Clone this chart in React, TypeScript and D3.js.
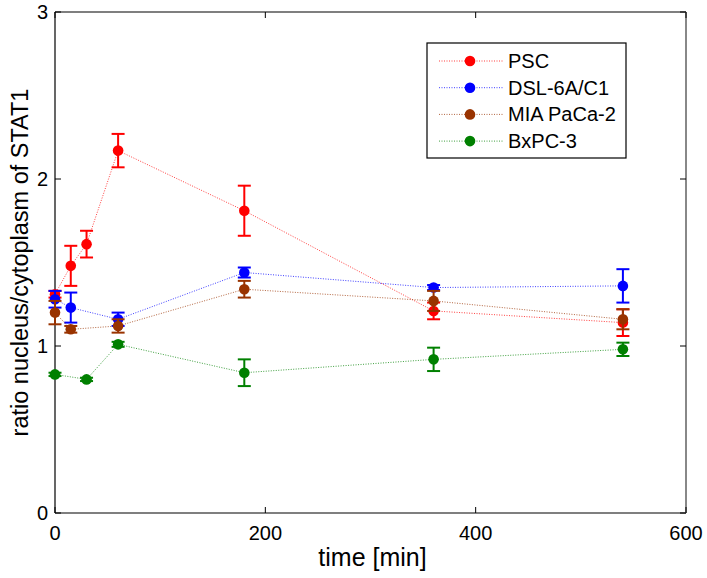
import React from "react";
import * as d3 from "d3";

const seriesNames = ["PSC", "DSL-6A/C1", "MIA PaCa-2", "BxPC-3"];
const seriesColors = ["#ff0000", "#0000ff", "#993300", "#008000"];

const pscTime = [0, 15, 30, 60, 180, 360, 540];
const pscValue = [1.31, 1.48, 1.61, 2.17, 1.81, 1.21, 1.14];
const pscErr = [0.02, 0.12, 0.08, 0.1, 0.15, 0.05, 0.08];

const dslTime = [0, 15, 60, 180, 360, 540];
const dslValue = [1.28, 1.23, 1.16, 1.44, 1.35, 1.36];
const dslErr = [0.05, 0.09, 0.04, 0.03, 0.015, 0.1];

const miaTime = [0, 15, 60, 180, 360, 540];
const miaValue = [1.2, 1.1, 1.12, 1.34, 1.27, 1.16];
const miaErr = [0.07, 0.02, 0.04, 0.05, 0.06, 0.06];

const bxTime = [0, 30, 60, 180, 360, 540];
const bxValue = [0.83, 0.8, 1.01, 0.84, 0.92, 0.98];
const bxErr = [0.01, 0.01, 0.015, 0.08, 0.07, 0.04];

const xTicks = [0, 200, 400, 600];
const yTicks = [0, 1, 2, 3];

const xLabel = "time [min]";
const yLabel = "ratio nucleus/cytoplasm of STAT1";

const W = 707;
const H = 578;
const left = 55;
const right = 686;
const top = 12;
const bottom = 513;

export default function App() {
  const x = d3.scaleLinear().domain([0, 600]).range([left, right]);
  const y = d3.scaleLinear().domain([0, 3]).range([bottom, top]);
  const line = d3
    .line<[number, number]>()
    .x((d) => x(d[0]))
    .y((d) => y(d[1]));

  const series = [
    { t: pscTime, v: pscValue, e: pscErr },
    { t: dslTime, v: dslValue, e: dslErr },
    { t: miaTime, v: miaValue, e: miaErr },
    { t: bxTime, v: bxValue, e: bxErr },
  ];

  const font = "'Liberation Sans', Arial, Helvetica, sans-serif";
  const tickLen = 6;
  const cap = 6.5;

  const legX = 427;
  const legY = 43;
  const legW = 199;
  const legH = 115;
  const legRow = 26.7;

  return (
    <svg
      width={W}
      height={H}
      style={{ position: "absolute", left: 0, top: 0, background: "#fff" }}
      fontFamily={font}
    >
      <rect x={0} y={0} width={W} height={H} fill="#fff" />
      {/* axes box */}
      <line x1={left} x2={right} y1={top} y2={top} stroke="#000" strokeWidth={1.2} />
      <line x1={left} x2={right} y1={bottom} y2={bottom} stroke="#000" strokeWidth={1.2} />
      <line x1={left} x2={left} y1={top} y2={bottom} stroke="#000" strokeWidth={1.2} />
      <line x1={right} x2={right} y1={top} y2={bottom} stroke="#888" strokeWidth={2} />
      {xTicks.map((t) => (
        <g key={"xt" + t}>
          <line x1={x(t)} x2={x(t)} y1={bottom} y2={bottom - tickLen} stroke="#000" />
          <line x1={x(t)} x2={x(t)} y1={top} y2={top + tickLen} stroke="#000" />
          <text x={x(t)} y={539.5} fontSize={20} textAnchor="middle" fill="#000">
            {t}
          </text>
        </g>
      ))}
      {yTicks.map((t) => (
        <g key={"yt" + t}>
          <line x1={left} x2={left + tickLen} y1={y(t)} y2={y(t)} stroke="#000" />
          <line x1={right} x2={right - tickLen} y1={y(t)} y2={y(t)} stroke="#000" />
          <text x={48} y={y(t) + 7} fontSize={20} textAnchor="end" fill="#000">
            {t}
          </text>
        </g>
      ))}
      <text x={(left + right) / 2 + 2} y={566} fontSize={25} textAnchor="middle" fill="#000">
        {xLabel}
      </text>
      <text
        transform={`translate(28,${(top + bottom) / 2}) rotate(-90)`}
        fontSize={23.5}
        textAnchor="middle"
        fill="#000"
      >
        {yLabel}
      </text>

      {series.map((s, i) => {
        const pts: [number, number][] = s.t.map((t, j) => [t, s.v[j]]);
        const c = seriesColors[i];
        return (
          <g key={"s" + i}>
            <path
              d={line(pts) || ""}
              fill="none"
              stroke={c}
              strokeWidth={1}
              strokeDasharray="1,1.5"
              opacity={0.75}
            />
            {s.t.map((t, j) => {
              const cx = x(t);
              const y1 = y(s.v[j] + s.e[j]);
              const y2 = y(s.v[j] - s.e[j]);
              return (
                <g key={"e" + j} stroke={c} strokeWidth={2}>
                  <line x1={cx} x2={cx} y1={y1} y2={y2} />
                  <line x1={cx - cap} x2={cx + cap} y1={y1} y2={y1} />
                  <line x1={cx - cap} x2={cx + cap} y1={y2} y2={y2} />
                </g>
              );
            })}
            {s.t.map((t, j) => (
              <circle key={"m" + j} cx={x(t)} cy={y(s.v[j])} r={5.3} fill={c} />
            ))}
          </g>
        );
      })}

      {/* legend */}
      <rect x={legX} y={legY} width={legW} height={legH} fill="#fff" stroke="#000" strokeWidth={1.2} />
      {seriesNames.map((n, i) => {
        const cy = legY + 18 + i * legRow;
        const c = seriesColors[i];
        return (
          <g key={"l" + i}>
            <line
              x1={439}
              x2={503}
              y1={cy}
              y2={cy}
              stroke={c}
              strokeWidth={1}
              strokeDasharray="1,1.5"
              opacity={0.75}
            />
            <circle cx={470} cy={cy} r={5.3} fill={c} />
            <text x={508} y={cy + 7} fontSize={20} fill="#000">
              {n}
            </text>
          </g>
        );
      })}
    </svg>
  );
}
